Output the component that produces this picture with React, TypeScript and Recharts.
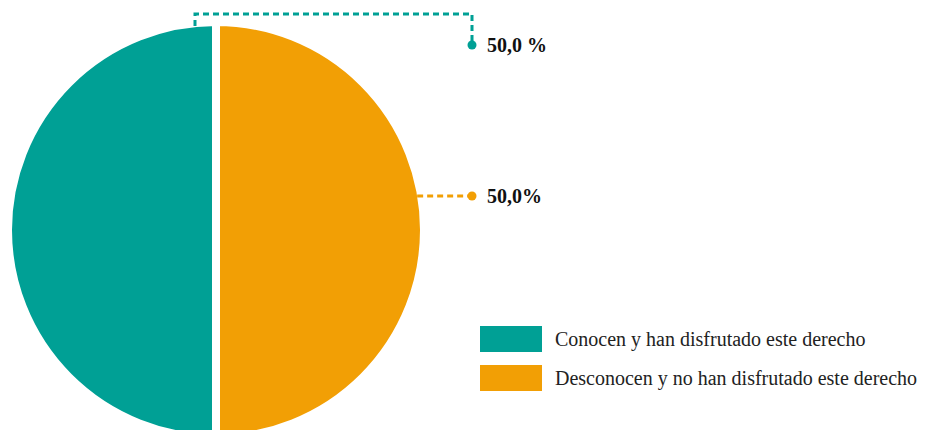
import { PieChart, Pie, Cell } from 'recharts';

const CATEGORIES = ['Conocen y han disfrutado este derecho', 'Desconocen y no han disfrutado este derecho'];
const VALUES = [50.0, 50.0];
const LABELS = ['50,0 %', '50,0%'];
const COLORS = ['#00A095', '#F29F05'];

const data = CATEGORIES.map((name, i) => ({ name, value: VALUES[i] }));

const FONT = '"Liberation Serif", "Times New Roman", serif';

// leader lines + value labels, placed relative to the pie geometry
// eslint-disable-next-line @typescript-eslint/no-explicit-any
function renderLabel(props: any) {
  const { cx, cy, outerRadius, index } = props;
  const r = outerRadius - 4;
  const color = COLORS[index];
  const endX = cx + 256;
  if (index === 0) {
    const x0 = cx - 21;
    const y0 = cy - r;
    const yTop = y0 - 12;
    const yEnd = cy - 185;
    return (
      <g>
        <path d={`M${x0},${y0} L${x0},${yTop} L${endX},${yTop} L${endX},${yEnd}`} fill="none" stroke={color} strokeWidth={3} strokeDasharray="6 4" />
        <circle cx={endX} cy={yEnd} r={4.5} fill={color} />
        <text x={endX + 15} y={yEnd + 7} fontFamily={FONT} fontWeight="bold" fontSize={20} fill="#111">{LABELS[index]}</text>
      </g>
    );
  }
  const y = cy - 34;
  const x0 = cx + Math.sqrt(r * r - 34 * 34);
  return (
    <g>
      <path d={`M${x0},${y} L${endX},${y}`} fill="none" stroke={color} strokeWidth={3} strokeDasharray="6 4" />
      <circle cx={endX} cy={y} r={4.5} fill={color} />
      <text x={endX + 15} y={y + 7} fontFamily={FONT} fontWeight="bold" fontSize={20} fill="#111">{LABELS[index]}</text>
    </g>
  );
}

export default function App() {
  return (
    <div style={{ position: 'absolute', left: 0, top: 0, width: 931, height: 430, background: '#fff', overflow: 'hidden' }}>
      <PieChart width={931} height={430} margin={{ top: 0, right: 0, bottom: 0, left: 0 }}>
        <Pie
          data={data}
          dataKey="value"
          cx={216}
          cy={230}
          outerRadius={208}
          startAngle={90}
          endAngle={450}
          stroke="#fff"
          strokeWidth={8}
          label={renderLabel}
          labelLine={false}
          isAnimationActive={false}
        >
          {data.map((_, i) => (
            <Cell key={i} fill={COLORS[i]} />
          ))}
        </Pie>
      </PieChart>
      <div style={{ position: 'absolute', left: 480, top: 326, fontFamily: FONT, fontSize: 20, color: '#222' }}>
        {data.map((d, i) => (
          <div key={d.name} style={{ display: 'flex', alignItems: 'center', height: 26, marginBottom: 13 }}>
            <span style={{ width: 62, height: 26, background: COLORS[i], marginRight: 13, flexShrink: 0 }} />
            <span style={{ whiteSpace: 'nowrap' }}>{d.name}</span>
          </div>
        ))}
      </div>
    </div>
  );
}
